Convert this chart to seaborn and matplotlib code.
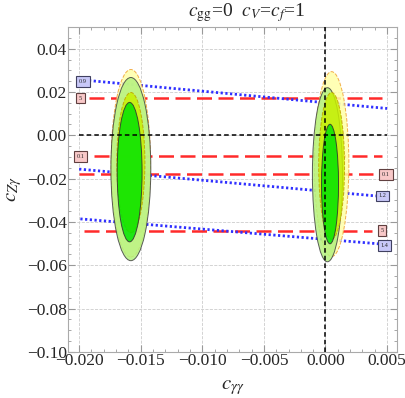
import numpy as np
import pandas as pd
import matplotlib
matplotlib.use("Agg")
import matplotlib.pyplot as plt
from matplotlib.patches import Ellipse
import seaborn as sns

# contour regions: (cx, cy, half-width, half-height) for each ellipse layer
ell_names = ["outer_yellow", "light_green", "chartreuse", "green"]
left_cx = [-0.0158, -0.0158, -0.0158, -0.0159]
left_cy = [-0.0129, -0.0156, -0.0126, -0.0170]
left_hw = [0.0016, 0.00162, 0.00114, 0.00101]
left_hh = [0.0433, 0.0423, 0.0324, 0.0322]
right_cx = [0.0005, 0.00016, 0.0005, 0.00037]
right_cy = [-0.0133, -0.0182, -0.0141, -0.0225]
right_hw = [0.0014, 0.00122, 0.00105, 0.00069]
right_hh = [0.0427, 0.0402, 0.0339, 0.0276]

# red dashed lines (constant c_Zgamma), label and endpoints
red_labels = ["5", "0.1", "0.1", "5"]
red_y = [0.0172, -0.0097, -0.0180, -0.0441]
red_x0 = [-0.0192, -0.0188, -0.0200, -0.0196]
red_x1 = [0.0046, 0.0046, 0.0039, 0.0038]
red_label_x = [-0.0199, -0.0199, 0.0049, 0.0046]

# blue dotted lines, label and endpoints
blue_labels = ["0.9", "1.2", "1.4"]
blue_x0 = [-0.0192, -0.0200, -0.0199]
blue_y0 = [0.0253, -0.0156, -0.0386]
blue_x1 = [0.0050, 0.0041, 0.0043]
blue_y1 = [0.0124, -0.0280, -0.0501]
blue_label_x = [-0.0197, 0.00463, 0.0048]
blue_label_y = [0.0248, -0.0280, -0.0510]

sns.set_style("ticks")
plt.rcParams["font.family"] = ["Liberation Serif", "DejaVu Serif"]
plt.rcParams["mathtext.fontset"] = "stix"

fig = plt.figure(figsize=(4.05, 3.98), dpi=100)
ax = fig.add_axes([0.168, 0.116, 0.812, 0.816])

fills = ["#ffffa8", "#b4f27e", "#c8f000", "#00e400"]
edges = ["#f0a030", "#404040", "#c0a000", "#303030"]
styles = ["--", "-", "--", "-"]
for cx_list, cy_list, hw_list, hh_list in [(left_cx, left_cy, left_hw, left_hh),
                                           (right_cx, right_cy, right_hw, right_hh)]:
    for i in range(len(ell_names)):
        e = Ellipse((cx_list[i], cy_list[i]), 2 * hw_list[i], 2 * hh_list[i],
                    facecolor=fills[i], edgecolor=edges[i], linestyle=styles[i],
                    lw=0.7, alpha=0.85, zorder=3)
        ax.add_patch(e)

# red dashed lines
red_df = pd.DataFrame({
    "x": red_x0 + red_x1,
    "y": red_y + red_y,
    "line": list(range(len(red_y))) * 2,
})
for k, grp in red_df.groupby("line"):
    sns.lineplot(data=grp, x="x", y="y", ax=ax, color="#ff2a2a", lw=1.8,
                 zorder=2, estimator=None, sort=False)
    ax.lines[-1].set_dashes((6, 2.6))

# blue dotted lines
blue_df = pd.DataFrame({
    "x": blue_x0 + blue_x1,
    "y": blue_y0 + blue_y1,
    "line": list(range(len(blue_y0))) * 2,
})
for k, grp in blue_df.groupby("line"):
    sns.lineplot(data=grp, x="x", y="y", ax=ax, color="#3030ff", lw=2.0,
                 zorder=2, estimator=None, sort=False)
    ax.lines[-1].set_dashes((0.8, 0.9))

# zero lines
ax.plot([-0.0200, 0.0050], [0, 0], color="black", lw=1.1, dashes=(3, 2), zorder=4)
ax.axvline(0, color="black", lw=1.1, dashes=(3, 2), zorder=4)

# value boxes
for lab, x, y in zip(red_labels, red_label_x, red_y):
    ax.text(x, y, lab, fontsize=4.5, ha="center", va="center", zorder=5,
            bbox=dict(boxstyle="square,pad=0.45", fc="#f8c8c8", ec="#604040", lw=0.8))
for lab, x, y in zip(blue_labels, blue_label_x, blue_label_y):
    ax.text(x, y, lab, fontsize=4.5, ha="center", va="center", zorder=5,
            bbox=dict(boxstyle="square,pad=0.45", fc="#c8c8f8", ec="#404060", lw=0.8))

ax.set_xlim(-0.0209, 0.0058)
ax.set_ylim(-0.10, 0.05)
ax.set_xticks([-0.020, -0.015, -0.010, -0.005, 0.000, 0.005])
ax.set_xticklabels(["\u22120.020", "\u22120.015", "\u22120.010", "\u22120.005", "0.000", "0.005"])
ax.set_yticks([-0.10, -0.08, -0.06, -0.04, -0.02, 0.00, 0.02, 0.04])
ax.set_yticklabels(["\u22120.10", "\u22120.08", "\u22120.06", "\u22120.04", "\u22120.02",
                    "0.00", "0.02", "0.04"])
ax.set_xticks(np.arange(-0.020, 0.0058, 0.001), minor=True)
ax.set_yticks(np.arange(-0.10, 0.05, 0.005), minor=True)
ax.tick_params(which="both", direction="in", top=True, right=True, color="#999999",
               labelsize=12.5, pad=1)
ax.tick_params(which="major", length=5)
ax.tick_params(which="minor", length=2.5)
ax.grid(True, which="major", color="#cccccc", linestyle="--", lw=0.6, zorder=0)
for s in ax.spines.values():
    s.set_color("#aaaaaa")
    s.set_linewidth(0.8)

ax.set_xlabel(r"$c_{\gamma\gamma}$", fontsize=15, labelpad=6)
ax.set_ylabel(r"$c_{Z\gamma}$", fontsize=15, labelpad=2)
fig.text(0.61, 0.968, r"$c_{\rm gg}$=0  $c_V$=$c_f$=1", fontsize=14, ha="center", va="center")

fig.savefig("out.png", dpi=100)
